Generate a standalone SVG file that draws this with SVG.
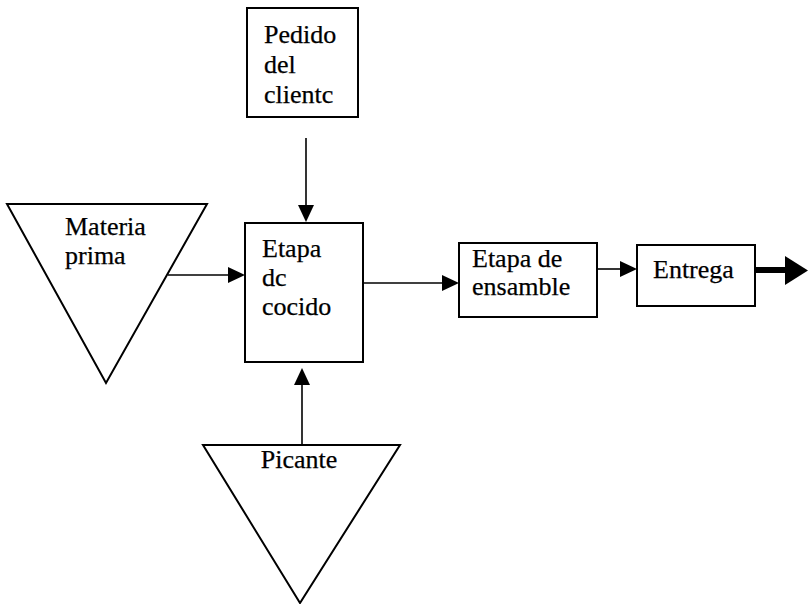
<svg xmlns="http://www.w3.org/2000/svg" width="808" height="604" viewBox="0 0 808 604">
  <style>
    .shape { fill: #ffffff; stroke: #000000; stroke-width: 2; }
    .label { font-family: "Liberation Serif", "Times New Roman", serif; font-size: 26px; fill: #000000; stroke: #000000; stroke-width: 0.25; }
    .link { stroke: #000000; stroke-width: 1.6; fill: none; }
    .head { fill: #000000; stroke: none; }
  </style>
  <rect width="808" height="604" fill="#ffffff"/>

  <g id="pedido">
    <rect class="shape" x="247" y="8" width="111" height="109"/>
    <text class="label" x="264" y="43">Pedido</text>
    <text class="label" x="264" y="73">del</text>
    <text class="label" x="264" y="103">clientc</text>
  </g>

  <g id="materia-prima">
    <polygon class="shape" points="7,204 207,204 106,383"/>
    <text class="label" x="65" y="235">Materia</text>
    <text class="label" x="65" y="264">prima</text>
  </g>

  <g id="etapa-cocido">
    <rect class="shape" x="245" y="223" width="118" height="139"/>
    <text class="label" x="262" y="257">Etapa</text>
    <text class="label" x="262" y="286">dc</text>
    <text class="label" x="262" y="315">cocido</text>
  </g>

  <g id="picante">
    <polygon class="shape" points="203,445 400,445 300,603"/>
    <text class="label" x="299" y="468" text-anchor="middle">Picante</text>
  </g>

  <g id="etapa-ensamble">
    <rect class="shape" x="459" y="243" width="138" height="74"/>
    <text class="label" x="472" y="267">Etapa de</text>
    <text class="label" x="472" y="295">ensamble</text>
  </g>

  <g id="entrega">
    <rect class="shape" x="637" y="245" width="118" height="61"/>
    <text class="label" x="653" y="278">Entrega</text>
  </g>

  <g id="connectors">
    <!-- Pedido del cliente -> Etapa de cocido -->
    <line class="link" x1="306" y1="138" x2="306" y2="206"/>
    <polygon class="head" points="298,205 314,205 306,222"/>
    <!-- Materia prima -> Etapa de cocido -->
    <line class="link" x1="168" y1="275" x2="229" y2="275"/>
    <polygon class="head" points="228,267 228,283 245,275"/>
    <!-- Picante -> Etapa de cocido -->
    <line class="link" x1="302" y1="445" x2="302" y2="384"/>
    <polygon class="head" points="294,385 310,385 302,368"/>
    <!-- Etapa de cocido -> Etapa de ensamble -->
    <line class="link" x1="363" y1="283" x2="443" y2="283"/>
    <polygon class="head" points="442,275 442,291 459,283"/>
    <!-- Etapa de ensamble -> Entrega -->
    <line class="link" x1="597" y1="269" x2="621" y2="269"/>
    <polygon class="head" points="620,261 620,277 637,269"/>
    <!-- Entrega -> output -->
    <line x1="755" y1="270" x2="788" y2="270" stroke="#000000" stroke-width="6"/>
    <polygon class="head" points="785,256 785,285 808,270.5"/>
  </g>
</svg>
